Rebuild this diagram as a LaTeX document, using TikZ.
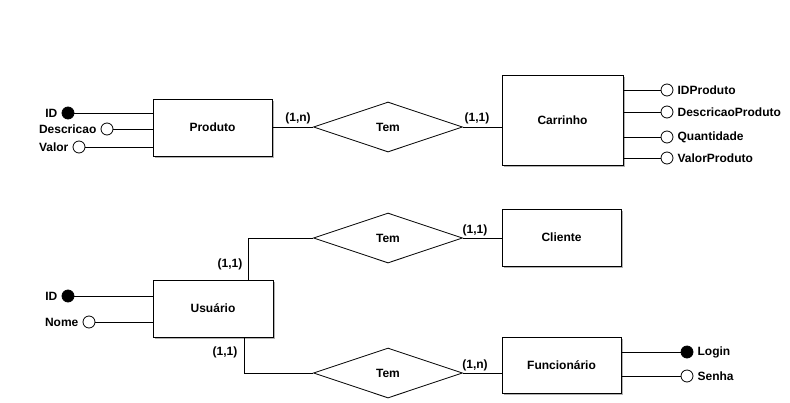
\documentclass[tikz,border=0pt]{standalone}
\usepackage{fontspec}
\setmainfont{Liberation Sans}
\usetikzlibrary{shapes.geometric,shadows}
\begin{document}
\begin{tikzpicture}[x=1pt,y=-1pt,
  every node/.style={font=\fontsize{12}{14}\selectfont\bfseries},
  ent/.style={draw,fill=white,line width=0.9pt,inner sep=0pt,
    drop shadow={shadow xshift=2pt,shadow yshift=-2pt,fill=gray!60,opacity=1}},
  rel/.style={draw,diamond,aspect=3,inner sep=0pt,line width=0.8pt,minimum width=149pt,minimum height=50pt},
  attr/.style={draw,circle,fill=white,minimum size=12pt,inner sep=0pt,line width=0.8pt},
  key/.style={draw,circle,fill=black,minimum size=12pt,inner sep=0pt,line width=0.8pt},
  lab/.style={inner sep=1pt},
  card/.style={inner sep=0pt},
  ln/.style={line width=0.9pt},
  label distance=3pt]
\useasboundingbox (0,0) rectangle (790,402);
% entities
\node[ent,minimum width=119pt,minimum height=57pt] (prod) at (212.5,127.5) {Produto};
\node[ent,minimum width=121pt,minimum height=90pt] (carr) at (562.5,120) {Carrinho};
\node[ent,minimum width=120pt,minimum height=57pt] (usu) at (213,308.5) {Usuário};
\node[ent,minimum width=119pt,minimum height=57pt] (cli) at (561.5,237.5) {Cliente};
\node[ent,minimum width=119pt,minimum height=56pt] (func) at (561.5,365) {Funcionário};
% relationships
\node[rel] (t1) at (388,127) {Tem};
\node[rel] (t2) at (388,238) {Tem};
\node[rel] (t3) at (388,373) {Tem};
% Produto attributes
\node[key,label={[lab]left:ID}] (pid) at (68,113) {};
\node[attr,label={[lab]left:Descricao}] (pdesc) at (107,129) {};
\node[attr,label={[lab]left:Valor}] (pval) at (79,147) {};
\draw[ln] (pid.east) -- (prod.west |- pid);
\draw[ln] (pdesc.east) -- (prod.west |- pdesc);
\draw[ln] (pval.east) -- (prod.west |- pval);
% Carrinho attributes
\node[attr,label={[lab]right:IDProduto}] (cid) at (667,90) {};
\node[attr,label={[lab]right:DescricaoProduto}] (cdesc) at (667,112) {};
\node[attr,label={[lab]right:Quantidade}] (cqtd) at (667,137) {};
\node[attr,label={[lab]right:ValorProduto}] (cval) at (667,158) {};
\draw[ln] (carr.east |- cid) -- (cid.west);
\draw[ln] (carr.east |- cdesc) -- (cdesc.west);
\draw[ln] (carr.east |- cqtd) -- (cqtd.west);
\draw[ln] (carr.east |- cval) -- (cval.west);
% Usuario attributes
\node[key,label={[lab]left:ID}] (uid) at (68,296) {};
\node[attr,label={[lab]left:Nome}] (unome) at (89,322) {};
\draw[ln] (uid.east) -- (usu.west |- uid);
\draw[ln] (unome.east) -- (usu.west |- unome);
% Funcionario attributes
\node[key,label={[lab]right:Login}] (flog) at (687,352) {};
\node[attr,label={[lab]right:Senha}] (fsen) at (687,376) {};
\draw[ln] (func.east |- flog) -- (flog.west);
\draw[ln] (func.east |- fsen) -- (fsen.west);
% relationship connectors
\draw[ln] (prod.east |- t1) -- (t1.west);
\draw[ln] (t1.east) -- (carr.west |- t1);
\draw[ln] ([xshift=35pt]usu.north) |- (t2.west);
\draw[ln] (t2.east) -- (cli.west |- t2);
\draw[ln] ([xshift=31pt]usu.south) |- (t3.west);
\draw[ln] (t3.east) -- (func.west |- t3);
% cardinalities
\node[card] (c1) at (298,118) {(1,n)};
\node[card] (c2) at (477,118) {(1,1)};
\node[card] (c3) at (230,264) {(1,1)};
\node[card] (c4) at (475,230) {(1,1)};
\node[card] (c5) at (225,352) {(1,1)};
\node[card] (c6) at (475,365) {(1,n)};
\end{tikzpicture}
\end{document}
